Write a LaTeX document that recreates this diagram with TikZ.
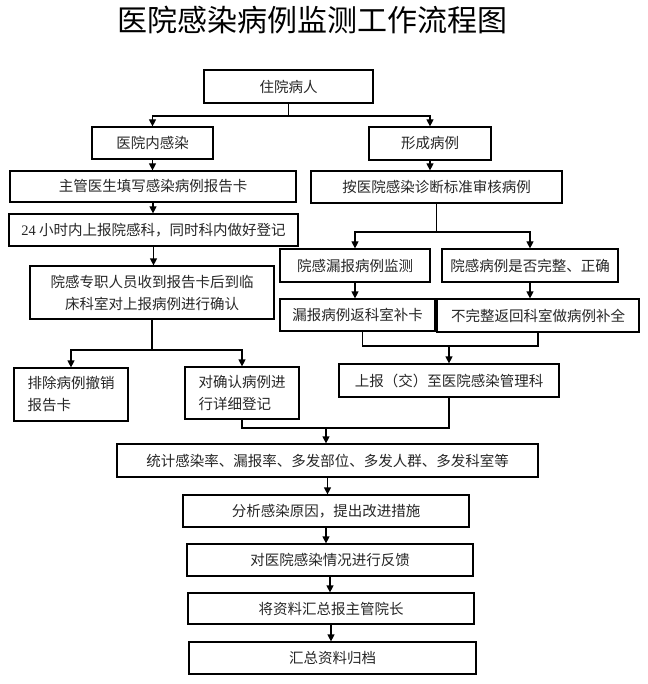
\documentclass[tikz,border=0pt]{standalone}
\usepackage{fontspec}
\setmainfont{Noto Sans CJK SC}
\newfontfamily\latinserif{Liberation Serif}
\usetikzlibrary{arrows.meta}
\tikzset{
  box/.style={draw=black, line width=1.2pt, inner sep=0pt, align=center,
    font=\fontsize{14.5}{22}\selectfont, text=black!85},
  lbox/.style={box, align=left},
  conn/.style={draw=black, line width=1.2pt},
  arr/.style={conn, -{Triangle[width=7pt,length=7pt]}},
}
\newcommand{\bx}[6][box]{\node[#1, minimum width=#4pt, minimum height=#5pt] (#2) at (#3) {#6};}
\begin{document}
\begin{tikzpicture}[x=1pt,y=-1pt]
\useasboundingbox (0,0) rectangle (647,684);
\node[font=\fontsize{30}{30}\selectfont] (title) at (312,20) {医院感染病例监测工作流程图};

\bx{zy}{288.5,86.5}{169}{33}{住院病人}
\bx{ny}{152.5,143}{121}{32}{医院内感染}
\bx{xc}{430,143.5}{122}{33}{形成病例}
\bx{zg}{153,186.5}{286}{31}{主管医生填写感染病例报告卡}
\bx{ac}{436.5,187}{251}{32}{按医院感染诊断标准审核病例}
\bx{hh}{153.5,230}{289}{32}{{\latinserif 24} 小时内上报院感科，同时科内做好登记}
\bx{yg}{152,292.5}{244}{53}{院感专职人员收到报告卡后到临\\床科室对上报病例进行确认}
\bx[lbox]{pc}{71,394.5}{114}{53}{排除病例撤销\\报告卡}
\bx[lbox]{dq}{242,393}{114}{52}{对确认病例进\\行详细登记}
\bx{lb}{355,265.5}{150}{33}{院感漏报病例监测}
\bx{wz}{530,265.5}{176}{33}{院感病例是否完整、正确}
\bx{lbf}{357.5,315}{155}{32}{漏报病例返科室补卡}
\bx{bw}{538,315.5}{202}{33}{不完整返回科室做病例补全}
\bx{sb}{449,380.5}{220}{33}{上报（交）至医院感染管理科}
\bx{tj}{327.5,460.5}{421}{33}{统计感染率、漏报率、多发部位、多发人群、多发科室等}
\bx{fx}{326,511}{286}{32}{分析感染原因，提出改进措施}
\bx{fk}{330,560}{286}{32}{对医院感染情况进行反馈}
\bx{jz}{331,608.5}{286}{31}{将资料汇总报主管院长}
\bx{gd}{332.5,658}{287}{32}{汇总资料归档}

% top split
\coordinate (s1) at (288.5,116);
\draw[conn] (zy.south) -- (s1);
\draw[arr] (s1) -| (ny.north);
\draw[arr] (s1) -| (xc.north);
% left column
\draw[arr] (ny.south) -- (ny.south |- zg.north);
\draw[arr] (zg.south) -- (zg.south |- hh.north);
\draw[arr] (hh.south) -- (hh.south |- yg.north);
\coordinate (s2) at (152,350);
\draw[conn] (yg.south) -- (s2);
\draw[arr] (s2) -| (pc.north);
\draw[arr] (s2) -| (dq.north);
% right column
\draw[arr] (xc.south) -- (xc.south |- ac.north);
\coordinate (s3) at (436.5,232);
\draw[conn] (ac.south) -- (s3);
\draw[arr] (s3) -| (lb.north);
\draw[arr] (s3) -| (wz.north);
\draw[arr] (lb.south) -- (lb.south |- lbf.north);
\draw[arr] (wz.south) -- (wz.south |- bw.north);
\coordinate (m1) at (449,346);
\draw[conn] ([xshift=5pt]lbf.south) |- (m1);
\draw[conn] (bw.south) |- (m1);
\draw[arr] (m1) -- (sb.north);
% merge into statistics
\coordinate (j) at (326,428);
\draw[conn] (dq.south) |- (j);
\draw[conn] (sb.south) |- (j);
\draw[arr] (j) -- (j |- tj.north);
% bottom chain
\draw[arr] (tj.south) -- (tj.south |- fx.north);
\draw[arr] (fx.south) -- (fx.south |- fk.north);
\draw[arr] (fk.south) -- (fk.south |- jz.north);
\draw[arr] (jz.south) -- (jz.south |- gd.north);
\end{tikzpicture}
\end{document}
